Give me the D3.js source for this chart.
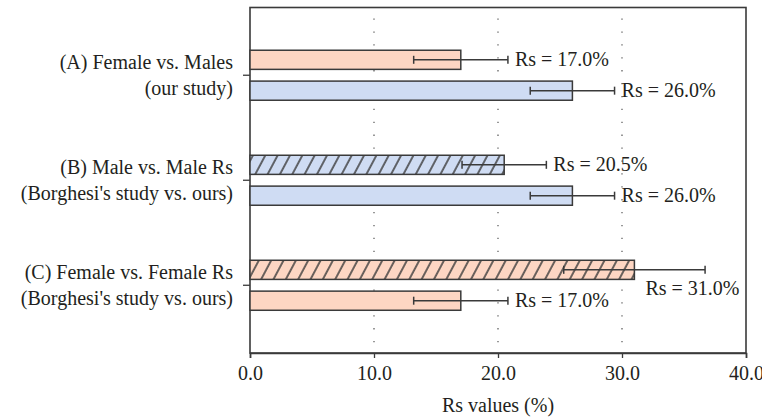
<!DOCTYPE html>
<html>
<head>
<meta charset="utf-8">
<script src="https://cdn.jsdelivr.net/npm/d3@7"></script>
<style>
  html, body { margin: 0; padding: 0; background: #fff; }
  svg { display: block; }
  text { font-family: "Liberation Serif", "Times New Roman", serif; fill: #231f20; }
</style>
</head>
<body>
<svg id="chart" width="762" height="417"></svg>
<script>
// ---- data ----
const categories = ["A", "B", "C"];
const categoryLine1 = ["(A) Female vs. Males", "(B) Male vs. Male Rs", "(C) Female vs. Female Rs"];
const categoryLine2 = ["(our study)", "(Borghesi's study vs. ours)", "(Borghesi's study vs. ours)"];
const topValues = [17.0, 20.5, 31.0];
const topErrors = [3.8, 3.4, 5.7];
const topGroup = ["female", "male", "female"];
const topHatched = [false, true, true];
const bottomValues = [26.0, 26.0, 17.0];
const bottomErrors = [3.4, 3.4, 3.8];
const bottomGroup = ["male", "male", "female"];
const bottomHatched = [false, false, false];
const xTicks = [0, 10, 20, 30, 40];
const xTitle = "Rs values (%)";

// ---- layout ----
const W = 762, H = 417;
const margin = { left: 250, right: 16, top: 7.5, bottom: 64 };
const fills = { female: "#fdd6c3", male: "#cfdcf3" };
const ink = "#3a3a3a";
const fontSize = 20;

const svg = d3.select("#chart");

const x = d3.scaleLinear().domain([0, 40]).range([margin.left, W - margin.right]);
const y = d3.scaleBand().domain(categories).range([margin.top, H - margin.bottom])
  .paddingInner(0).paddingOuter(0.145);
const sub = d3.scaleBand().domain(["top", "bottom"]).range([-25, 25]).paddingInner(0.38);

// hatch patterns
const defs = svg.append("defs");
Object.entries(fills).forEach(([k, c]) => {
  const p = defs.append("pattern")
    .attr("id", "hatch-" + k)
    .attr("patternUnits", "userSpaceOnUse")
    .attr("width", 10.9).attr("height", 10.9)
    .attr("patternTransform", "rotate(28)");
  p.append("rect").attr("width", 10.9).attr("height", 10.9).attr("fill", c);
  p.append("line").attr("x1", 2).attr("x2", 2).attr("y1", 0).attr("y2", 10.9)
    .attr("stroke", ink).attr("stroke-width", 1.5);
});

// grid (dotted)
svg.append("g").selectAll("line").data(xTicks.filter(t => t > 0 && t < 40)).join("line")
  .attr("x1", d => x(d)).attr("x2", d => x(d))
  .attr("y1", margin.top + 11).attr("y2", H - margin.bottom)
  .attr("stroke", "#555").attr("stroke-width", 1.2)
  .attr("stroke-dasharray", "1.3,11.6");

// frame
svg.append("rect")
  .attr("x", x(0)).attr("y", margin.top)
  .attr("width", x(40) - x(0)).attr("height", H - margin.bottom - margin.top)
  .attr("fill", "none").attr("stroke", ink).attr("stroke-width", 1.6);

// build bar records
const bars = [];
categories.forEach((c, i) => {
  bars.push({ cat: c, pos: "top", v: topValues[i], e: topErrors[i], g: topGroup[i], h: topHatched[i] });
  bars.push({ cat: c, pos: "bottom", v: bottomValues[i], e: bottomErrors[i], g: bottomGroup[i], h: bottomHatched[i] });
});
const barY = d => y(d.cat) + y.bandwidth() / 2 + sub(d.pos);
const bh = sub.bandwidth();

svg.append("g").selectAll("rect").data(bars).join("rect")
  .attr("x", x(0)).attr("y", barY)
  .attr("width", d => x(d.v) - x(0)).attr("height", bh)
  .attr("fill", d => d.h ? `url(#hatch-${d.g})` : fills[d.g])
  .attr("stroke", ink).attr("stroke-width", 1.5);

// error bars
const eg = svg.append("g").attr("stroke", ink).attr("stroke-width", 1.5);
bars.forEach(d => {
  const cy = barY(d) + bh / 2;
  eg.append("line").attr("x1", x(d.v - d.e)).attr("x2", x(d.v + d.e)).attr("y1", cy).attr("y2", cy);
  [d.v - d.e, d.v + d.e].forEach(v => {
    eg.append("line").attr("x1", x(v)).attr("x2", x(v)).attr("y1", cy - 4).attr("y2", cy + 4);
  });
});

// value labels
svg.append("g").selectAll("text").data(bars).join("text")
  .each(function(d) {
    const cy = barY(d) + bh / 2;
    const sel = d3.select(this);
    const lab = "Rs = " + d.v.toFixed(1) + "%";
    const tx = x(d.v + d.e) + 7;
    if (tx + 93 > x(40)) {
      sel.attr("x", x(d.v) + 11).attr("y", cy + 19);
    } else {
      sel.attr("x", tx).attr("y", cy);
    }
    sel.text(lab);
  })
  .attr("dy", "0.33em")
  .attr("font-size", fontSize);

// x axis
const xAxis = svg.append("g")
  .attr("transform", `translate(0,${H - margin.bottom})`)
  .call(d3.axisBottom(x).tickValues(xTicks).tickFormat(d3.format(".1f")).tickSize(5).tickPadding(8));
xAxis.select(".domain").attr("stroke", ink).attr("stroke-width", 1.6);
xAxis.selectAll(".tick line").attr("stroke", ink).attr("stroke-width", 1.3);
xAxis.selectAll(".tick text").attr("font-size", fontSize).attr("font-family", "Liberation Serif").attr("fill", "#231f20");

svg.append("text")
  .attr("x", (x(0) + x(40)) / 2).attr("y", 412)
  .attr("text-anchor", "middle").attr("font-size", fontSize)
  .text(xTitle);

// y axis
const yAxis = svg.append("g")
  .attr("transform", `translate(${x(0)},0)`)
  .call(d3.axisLeft(y).tickSize(7).tickFormat(""));
yAxis.select(".domain").remove();
yAxis.selectAll(".tick line").attr("stroke", ink).attr("stroke-width", 1.3);

const labG = svg.append("g");
categories.forEach((c, i) => {
  const cy = y(c) + y.bandwidth() / 2;
  const t = labG.append("text").attr("text-anchor", "end").attr("font-size", fontSize);
  t.append("tspan").attr("x", 233).attr("y", cy - 13.3).attr("dy", "0.33em").text(categoryLine1[i]);
  t.append("tspan").attr("x", 233).attr("y", cy + 13.3).attr("dy", "0.33em").text(categoryLine2[i]);
});
</script>
</body>
</html>
